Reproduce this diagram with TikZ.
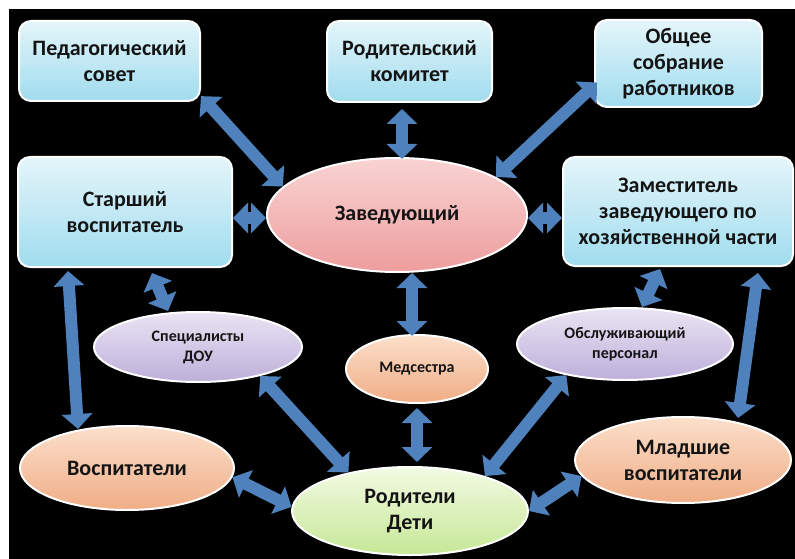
\documentclass[tikz,border=0pt]{standalone}
\usepackage{fontspec}
\setmainfont{Carlito}
\usetikzlibrary{shapes.geometric,arrows.meta,calc}
\definecolor{arrowblue}{HTML}{4F81BD}
\definecolor{boxtop}{HTML}{E4F5FA}
\definecolor{boxbot}{HTML}{A0DCEE}
\definecolor{pinktop}{HTML}{FAD3D3}
\definecolor{pinkbot}{HTML}{EE9D9D}
\definecolor{purptop}{HTML}{EAE4F3}
\definecolor{purpbot}{HTML}{BDAFDA}
\definecolor{orgtop}{HTML}{FCDFCB}
\definecolor{orgbot}{HTML}{EFAD85}
\definecolor{grntop}{HTML}{F3FBE3}
\definecolor{grnbot}{HTML}{C6E796}
\definecolor{txt}{HTML}{141414}
\begin{document}
\begin{tikzpicture}[x=1pt,y=-1pt,
  box/.style={rectangle, rounded corners=12pt, draw=white, line width=2pt,
    top color=boxtop, bottom color=boxbot, align=center, text=txt,
    font=\fontsize{22}{26}\selectfont\bfseries, inner sep=0pt},
  ell/.style={ellipse, draw=white, line width=2pt, align=center, text=txt,
    inner sep=0pt, font=\fontsize{22}{26}\selectfont\bfseries},
  small/.style={font=\fontsize{16}{20}\selectfont\bfseries},
  pinkfill/.style={top color=pinktop, bottom color=pinkbot},
  purpfill/.style={top color=purptop, bottom color=purpbot},
  orgfill/.style={top color=orgtop, bottom color=orgbot},
  grnfill/.style={top color=grntop, bottom color=grnbot},
  link/.style={line width=12pt, draw=arrowblue,
    {Triangle[length=15pt,width=30pt]}-{Triangle[length=15pt,width=30pt]}}
]
\useasboundingbox (0,0) rectangle (795,559);
\fill[white] (0,0) rectangle (795,559);
\fill[black] (9,9) rectangle (795,559);

% boxes
\node[box, minimum width=181pt, minimum height=80pt] (ped) at (109.5,61) {Педагогический\\совет};
\node[box, minimum width=165pt, minimum height=81pt] (kom) at (409.5,61.5) {Родительский\\комитет};
\node[box, minimum width=167pt, minimum height=87pt] (obsh) at (678.5,63.5) {Общее\\собрание\\работников};
\node[box, minimum width=214pt, minimum height=110pt] (star) at (125,212) {Старший\\воспитатель};
\node[box, minimum width=230pt, minimum height=109pt] (zam) at (678,211.5) {Заместитель\\заведующего по\\хозяйственной части};

% ellipses
\node[ell, pinkfill, minimum width=260pt, minimum height=114pt] (zav) at (397,215) {Заведующий};
\node[ell, purpfill, small, minimum width=208pt, minimum height=70pt] (spec) at (198,347) {Специалисты\\ДОУ};
\node[ell, orgfill, small, minimum width=142pt, minimum height=68pt] (med) at (417,369) {Медсестра};
\node[ell, purpfill, small, minimum width=216pt, minimum height=72pt] (obsl) at (625,344) {Обслуживающий\\персонал};
\node[ell, orgfill, minimum width=214pt, minimum height=84pt] (vosp) at (127,468) {Воспитатели};
\node[ell, grnfill, minimum width=236pt, minimum height=88pt] (rod) at (410,511) {Родители\\Дети};
\node[ell, orgfill, minimum width=216pt, minimum height=86pt] (mlad) at (683,460) {Младшие\\воспитатели};

% connectors
\draw[link] (ped.-21) -- (zav.166);
\draw[link] ([shift={(-7.5,6)}]kom.south) -- ([shift={(5,2)}]zav.north);
\draw[link] ([shift={(3,19)}]obsh.west) -- (zav.21);
\draw[link] ([shift={(0,6)}]star.east) -- ([shift={(0,3)}]zav.west);
\draw[link] ([shift={(0,3)}]zav.east) -- ([shift={(0,6.5)}]zam.west);
\draw[link] ([shift={(-57,3)}]star.south) -- ([shift={(-49,4)}]vosp.north);
\draw[link] ([shift={(27,5)}]star.south) -- ([shift={(-30,0)}]spec.north);
\draw[link] ([shift={(15,0)}]zav.south) -- ([shift={(-5,2)}]med.north);
\draw[link] ([shift={(-18,2)}]zam.south) -- ([shift={(17,0)}]obsl.north);
\draw[link] ([shift={(80,6)}]zam.south) -- ([shift={(55,2)}]mlad.north);
\draw[link] (spec.-25) -- (rod.148);
\draw[link] ([shift={(0,4)}]med.south) -- ([shift={(7,-4)}]rod.north);
\draw[link] (obsl.208) -- (rod.25);
\draw[link] (vosp.-5) -- (rod.178);
\draw[link] (rod.0) -- (mlad.189);
\end{tikzpicture}
\end{document}
